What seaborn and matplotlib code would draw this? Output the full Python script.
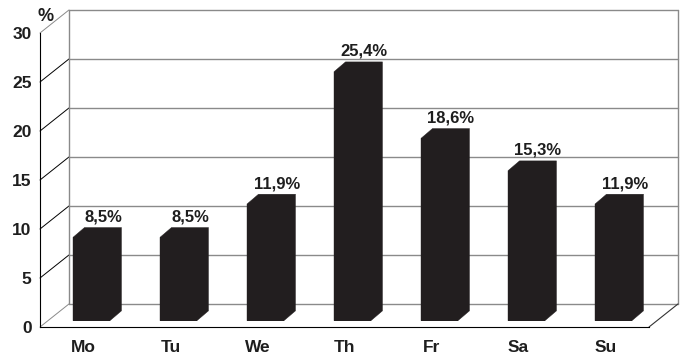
import matplotlib
matplotlib.use("Agg")
import matplotlib.pyplot as plt
from matplotlib.patches import Polygon
import seaborn as sns
import pandas as pd

days = ["Mo", "Tu", "We", "Th", "Fr", "Sa", "Su"]
shares = [8.5, 8.5, 11.9, 25.4, 18.6, 15.3, 11.9]
labels = ["8,5%", "8,5%", "11,9%", "25,4%", "18,6%", "15,3%", "11,9%"]
yticks = [0, 5, 10, 15, 20, 25, 30]

sns.set_theme(style="white")
plt.rcParams["font.family"] = ["Liberation Sans", "DejaVu Sans"]
plt.rcParams["font.weight"] = "bold"

BAR_COLOR = "#221e1f"
GRID_COLOR = "#8a8a8a"
TEXT_COLOR = "#1e1e1e"

# oblique projection of the depth axis (data units)
DX, DY = 0.333, 2.35      # back wall offset
BX, BY = 0.092, 0.65      # bar front face offset inside the box
BDX, BDY = 0.132, 1.0     # bar depth

fig = plt.figure(figsize=(6.84, 3.58), dpi=100)
ax = fig.add_axes([40 / 684, 1 - 327 / 358, 609 / 684, 294 / 358])

df = pd.DataFrame({"day": days, "share": shares})
sns.barplot(data=df, x="day", y="share", order=days, color=BAR_COLOR,
            width=0.425, saturation=1, ax=ax, zorder=3, linewidth=0)

ax.set_xlim(-0.5, 6.5)
ax.set_ylim(0, 30)

x0, x1 = -0.5, 6.5
# back wall: gridlines and vertical edges
for v in yticks:
    ax.plot([x0 + DX, x1 + DX], [v + DY, v + DY], color=GRID_COLOR,
            lw=1.0, clip_on=False, zorder=1)
    side_col = GRID_COLOR if v in (0, 30) else "black"
    ax.plot([x0, x0 + DX], [v, v + DY], color=side_col, lw=0.7,
            clip_on=False, zorder=1)
ax.plot([x0 + DX, x0 + DX], [DY, 30 + DY], color=GRID_COLOR, lw=1.0,
        clip_on=False, zorder=1)
ax.plot([x1 + DX, x1 + DX], [DY, 30 + DY], color=GRID_COLOR, lw=1.0,
        clip_on=False, zorder=1)
# floor right edge
ax.plot([x1, x1 + DX], [0, DY], color="#333333", lw=0.8,
        clip_on=False, zorder=1)

# move the bars into the box and give them depth (solid prism outline)
for patch, val, lab in zip(ax.patches, shares, labels):
    patch.set_x(patch.get_x() + BX)
    patch.set_y(BY)
    L = patch.get_x()
    R = L + patch.get_width()
    b = patch.get_y()
    t = b + patch.get_height()
    ax.add_patch(Polygon([(L, b), (L, t), (L + BDX, t + BDY),
                          (R + BDX, t + BDY), (R + BDX, b + BDY), (R, b)],
                         closed=True, facecolor=BAR_COLOR,
                         edgecolor=BAR_COLOR, linewidth=0.3,
                         zorder=3.5, clip_on=False))
    ax.text((L + R) / 2 + BDX, t + BDY + 0.3, lab, ha="center", va="bottom",
            fontsize=12, fontweight="bold", color=TEXT_COLOR, clip_on=False)

ax.text(-0.44, 31.7, "%", ha="center", va="center", fontsize=13,
        fontweight="bold", color=TEXT_COLOR, clip_on=False)

for s in ("top", "right"):
    ax.spines[s].set_visible(False)
for s in ("left", "bottom"):
    ax.spines[s].set_color("black")
    ax.spines[s].set_linewidth(0.8)

ax.set_xlabel("")
ax.set_ylabel("")
ax.set_yticks(yticks)
ax.set_yticklabels([str(v) for v in yticks], fontsize=12.5, fontweight="bold")
ax.set_xticks(range(len(days)))
ax.set_xticklabels(days, fontsize=12.5, fontweight="bold")
ax.set_xticks([i - 0.5 for i in range(len(days) + 1)], minor=True)
ax.tick_params(axis="x", which="major", length=0, pad=9.5,
               labelcolor=TEXT_COLOR)
ax.tick_params(axis="x", which="minor", length=4, width=0.8, color="black",
               direction="out")
ax.tick_params(axis="y", length=4, width=0.8, color="black", pad=2,
               direction="out", labelcolor=TEXT_COLOR)
ax.grid(False)

fig.savefig("out.png", dpi=100)
